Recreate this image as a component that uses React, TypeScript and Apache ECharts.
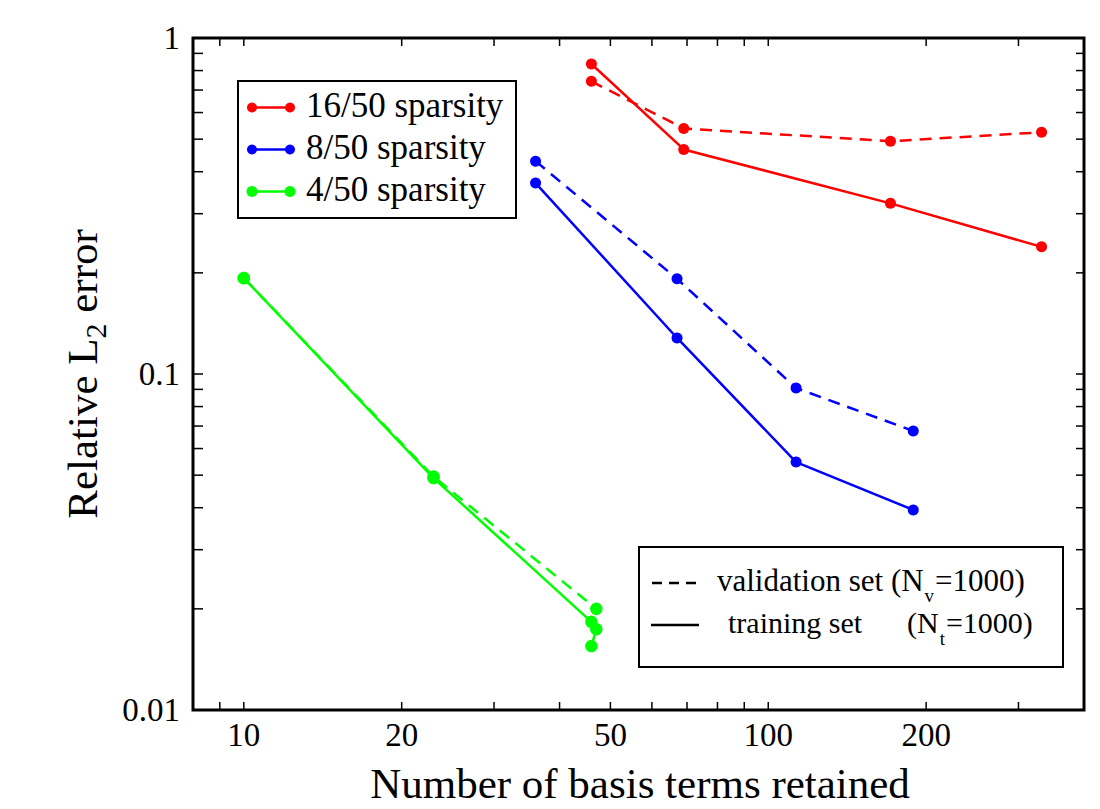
import React, { useEffect, useRef } from 'react';
import * as echarts from 'echarts';

const FAMILY = 'Liberation Serif';

// ---- data ----
const redX = [46, 69, 171, 332];
const redTraining = [0.837, 0.466, 0.322, 0.239];
const redValidation = [0.743, 0.538, 0.493, 0.524];

const blueX = [36, 67, 113, 189];
const blueTraining = [0.37, 0.128, 0.0547, 0.0394];
const blueValidation = [0.43, 0.192, 0.0908, 0.0677];

const greenTrainingX = [10, 23, 46, 47, 46];
const greenTraining = [0.193, 0.049, 0.0183, 0.0174, 0.0155];
const greenValidationX = [10, 23, 47];
const greenValidation = [0.193, 0.0495, 0.02];

// ---- axes ----
const X_MIN = 8;
const X_MAX = 400;
const Y_MIN = 0.01;
const Y_MAX = 1;
const xTicks = [9, 10, 20, 30, 40, 50, 60, 70, 80, 90, 100, 200, 300];
const xTickLabels = [10, 20, 50, 100, 200];
const yTicks = [0.02, 0.03, 0.04, 0.05, 0.06, 0.07, 0.08, 0.09, 0.1, 0.2, 0.3, 0.4, 0.5, 0.6, 0.7, 0.8, 0.9];
const yTickLabels = [0.01, 0.1, 1];

const sparsityNames = ['16/50 sparsity', '8/50 sparsity', '4/50 sparsity'];
const sparsityColors = ['#ff0000', '#0000ff', '#00ff00'];
const sparsitySymbolSizes = [11, 11, 12.5];

const xTitle = 'Number of basis terms retained';

function pairs(xs: number[], ys: number[]) {
  return xs.map((x, i) => [x, ys[i]]);
}

export default function App() {
  const ref = useRef<HTMLDivElement>(null);

  useEffect(() => {
    if (!ref.current) return;
    const chart = echarts.init(ref.current, undefined, { renderer: 'svg' });
    const ctx = document.createElement('canvas').getContext('2d')!;
    const measure = (t: string, size: number) => {
      ctx.font = `${size}px "${FAMILY}"`;
      return ctx.measureText(t).width;
    };
    const txt = (text: string, x: number, y: number, size: number, align = 'left') => ({
      type: 'text',
      x,
      y,
      z: 101,
      style: {
        text,
        fill: '#000',
        fontSize: size,
        fontFamily: FAMILY,
        textAlign: align,
        textVerticalAlign: 'middle',
      },
    });

    const lineSeries = (name: string, xs: number[], ys: number[], i: number, dashed: boolean) => ({
      type: 'line',
      name,
      data: pairs(xs, ys),
      symbol: 'circle',
      symbolSize: sparsitySymbolSizes[i],
      showSymbol: true,
      z: 3,
      lineStyle: { color: sparsityColors[i], width: 2.5, type: dashed ? [12, 8] : 'solid' },
      itemStyle: { color: sparsityColors[i] },
    });

    const tickData = [
      ...xTicks.map((v) => [v, Y_MIN, 0]),
      ...yTicks.map((v) => [X_MIN, v, 1]),
      ...xTickLabels.map((v) => [v, Y_MIN, 2]),
      ...yTickLabels.map((v) => [X_MIN, v, 3]),
    ];

    // Legend 1
    const lg1: any[] = [
      { type: 'rect', z: 100, shape: { x: 238, y: 81, width: 278, height: 137 }, style: { fill: '#fff', stroke: '#000', lineWidth: 2 } },
    ];
    const rowY = [107.5, 149.5, 191.5];
    sparsityNames.forEach((name, i) => {
      const c = sparsityColors[i];
      const y = rowY[i];
      const r = i === 2 ? 5.5 : 5;
      lg1.push({ type: 'line', z: 101, shape: { x1: 252, y1: y, x2: 290, y2: y }, style: { stroke: c, lineWidth: 2.5 } });
      lg1.push({ type: 'circle', z: 102, shape: { cx: 252, cy: y, r }, style: { fill: c } });
      lg1.push({ type: 'circle', z: 102, shape: { cx: 290, cy: y, r }, style: { fill: c } });
      lg1.push(txt(name, 306, y - 2, 35));
    });

    // Legend 2
    const lg2: any[] = [
      { type: 'rect', z: 100, shape: { x: 639, y: 547, width: 424, height: 120 }, style: { fill: '#fff', stroke: '#000', lineWidth: 2 } },
      { type: 'line', z: 101, shape: { x1: 652, y1: 583, x2: 700, y2: 583 }, style: { stroke: '#000', lineWidth: 2.5, lineDash: [10, 7] } },
      { type: 'line', z: 101, shape: { x1: 651, y1: 625, x2: 699, y2: 625 }, style: { stroke: '#000', lineWidth: 2.5 } },
    ];
    {
      const F1 = 31;
      const S1 = 19;
      const a = 'validation set (N';
      let x = 717;
      lg2.push(txt(a, x, 580, F1));
      x += measure(a, F1) + 1;
      lg2.push(txt('v', x, 595, S1));
      x += measure('v', S1) + 1;
      lg2.push(txt('=1000)', x, 580, F1));

      const F2 = 30;
      const S2 = 19;
      lg2.push(txt('training set', 728, 622, F2));
      x = 907;
      const c = '(N';
      lg2.push(txt(c, x, 622, F2));
      x += measure(c, F2) + 1;
      lg2.push(txt('t', x, 638, S2));
      x += measure('t', S2) + 1;
      lg2.push(txt('=1000)', x, 622, F2));
    }

    // Y axis title (rotated, with subscript)
    const FY = 43;
    const SY = 30;
    const p1 = 'Relative L';
    const p2 = '2';
    const p3 = ' error';
    const w1 = measure(p1, FY);
    const w2 = measure(p2, SY);
    const w3 = measure(p3, FY);
    const W = w1 + w2 + w3;
    const x0 = -W / 2;
    const yTitle = {
      type: 'group',
      x: 96,
      y: 374,
      rotation: Math.PI / 2,
      children: [
        txt(p1, x0, -14, FY),
        txt(p2, x0 + w1, -1, SY),
        txt(p3, x0 + w1 + w2, -14, FY),
      ],
    };

    const option: any = {
      animation: false,
      backgroundColor: '#fff',
      textStyle: { fontFamily: FAMILY },
      grid: { left: 193, top: 38, width: 891, height: 672, show: true, borderColor: '#000', borderWidth: 3, backgroundColor: 'transparent' },
      xAxis: {
        type: 'log',
        logBase: 10,
        min: X_MIN,
        max: X_MAX,
        axisLine: { show: false },
        axisTick: { show: false },
        axisLabel: { show: false },
        splitLine: { show: false },
        minorTick: { show: false },
      },
      yAxis: {
        type: 'log',
        logBase: 10,
        min: Y_MIN,
        max: Y_MAX,
        axisLine: { show: false },
        axisTick: { show: false },
        axisLabel: { show: false },
        splitLine: { show: false },
      },
      series: [
        {
          type: 'custom',
          name: 'ticks',
          silent: true,
          clip: false,
          z: 1,
          data: tickData,
          renderItem: (params: any, api: any) => {
            const kind = api.value(2);
            const xv = api.value(0);
            const yv = api.value(1);
            const p = api.coord([xv, yv]);
            const cs = params.coordSys;
            const left = cs.x;
            const top = cs.y;
            const right = cs.x + cs.width;
            const bottom = cs.y + cs.height;
            const ls = { stroke: '#000', lineWidth: 1.5 };
            if (kind === 0) {
              return {
                type: 'group',
                children: [
                  { type: 'line', shape: { x1: p[0], y1: bottom, x2: p[0], y2: bottom - 8 }, style: ls },
                  { type: 'line', shape: { x1: p[0], y1: top, x2: p[0], y2: top + 8 }, style: ls },
                ],
              };
            }
            if (kind === 1) {
              return {
                type: 'group',
                children: [
                  { type: 'line', shape: { x1: left, y1: p[1], x2: left + 10, y2: p[1] }, style: ls },
                  { type: 'line', shape: { x1: right, y1: p[1], x2: right - 8, y2: p[1] }, style: ls },
                ],
              };
            }
            if (kind === 2) {
              return txt(String(xv), p[0], bottom + 25, 33, 'center');
            }
            return txt(String(yv), left - 13, p[1], 33, 'right');
          },
        },
        lineSeries(sparsityNames[0] + ' training', redX, redTraining, 0, false),
        lineSeries(sparsityNames[0] + ' validation', redX, redValidation, 0, true),
        lineSeries(sparsityNames[1] + ' training', blueX, blueTraining, 1, false),
        lineSeries(sparsityNames[1] + ' validation', blueX, blueValidation, 1, true),
        lineSeries(sparsityNames[2] + ' training', greenTrainingX, greenTraining, 2, false),
        lineSeries(sparsityNames[2] + ' validation', greenValidationX, greenValidation, 2, true),
      ],
      graphic: [
        ...lg1,
        ...lg2,
        yTitle,
        txt(xTitle, 640, 783, 43, 'center'),
      ],
    };
    chart.setOption(option);
    return () => chart.dispose();
  }, []);

  return (
    <div style={{ position: 'absolute', left: 0, top: 0, width: 1100, height: 809, background: '#fff' }}>
      <div ref={ref} style={{ width: 1100, height: 809 }} />
    </div>
  );
}
